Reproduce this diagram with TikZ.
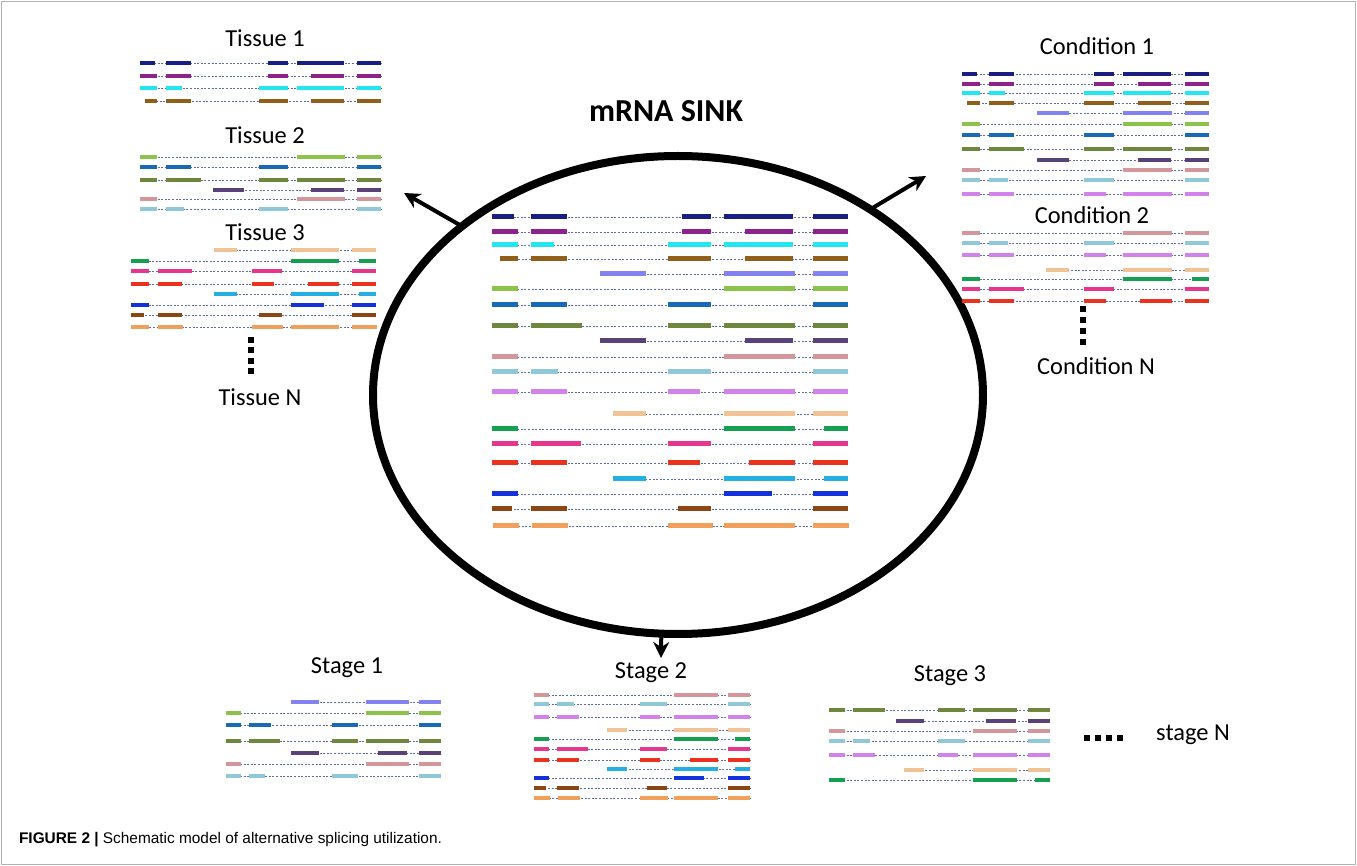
\documentclass[tikz,border=0pt]{standalone}
\usepackage{fontspec}
\setmainfont{Carlito}
\newfontfamily\capfont{Liberation Sans}
\usetikzlibrary{arrows.meta,shapes.geometric}

\definecolor{cNavy}{RGB}{25,30,130}
\definecolor{cPurple}{RGB}{140,35,140}
\definecolor{cCyan}{RGB}{35,230,240}
\definecolor{cGold}{RGB}{145,95,25}
\definecolor{cPeri}{RGB}{130,130,240}
\definecolor{cLime}{RGB}{140,195,75}
\definecolor{cSteel}{RGB}{25,105,185}
\definecolor{cOlive}{RGB}{110,135,60}
\definecolor{cPlum}{RGB}{90,65,120}
\definecolor{cRose}{RGB}{210,150,155}
\definecolor{cIce}{RGB}{145,200,215}
\definecolor{cOrchid}{RGB}{210,130,235}
\definecolor{cPeach}{RGB}{240,195,150}
\definecolor{cGreen}{RGB}{20,160,80}
\definecolor{cPink}{RGB}{230,55,140}
\definecolor{cRed}{RGB}{235,50,30}
\definecolor{cSky}{RGB}{35,175,225}
\definecolor{cBlue}{RGB}{20,50,220}
\definecolor{cBrown}{RGB}{140,70,20}
\definecolor{cOrange}{RGB}{240,160,90}
\definecolor{cIntron}{RGB}{95,110,160}

% one transcript: y, colour, exons (from/to)
\newcommand{\rna}[3]{%
	\foreach \a/\b [count=\i] in {#3} {
		\ifnum\i=1 \xdef\rnaFirst{\a}\fi
		\xdef\rnaLast{\b}
	}
	\draw[intron] (\rnaFirst,#1) -- (\rnaLast,#1);
	\foreach \a/\b in {#3} {
		\draw[exon, #2] (\a,#1) -- (\b,#1);
	}
}
\newcommand{\tNavy}[1]{\rna{#1}{cNavy}{1/23,40/76,191/220,233/302,322/357}}
\newcommand{\tPurple}[1]{\rna{#1}{cPurple}{1/27,40/76,191/220,254/302,322/357}}
\newcommand{\tCyan}[1]{\rna{#1}{cCyan}{1/27,40/63,177/220,233/302,322/357}}
\newcommand{\tGold}[1]{\rna{#1}{cGold}{9/27,40/76,177/220,254/302,322/357}}
\newcommand{\tPeri}[1]{\rna{#1}{cPeri}{109/155,233/304,322/357}}
\newcommand{\tLime}[1]{\rna{#1}{cLime}{1/27,233/304,322/357}}
\newcommand{\tSteel}[1]{\rna{#1}{cSteel}{1/27,40/76,177/220,322/357}}
\newcommand{\tOlive}[1]{\rna{#1}{cOlive}{1/27,40/91,177/220,233/304,322/357}}
\newcommand{\tPlum}[1]{\rna{#1}{cPlum}{109/155,254/302,322/357}}
\newcommand{\tRose}[1]{\rna{#1}{cRose}{1/27,233/304,322/357}}
\newcommand{\tIce}[1]{\rna{#1}{cIce}{1/27,40/67,177/220,322/357}}
\newcommand{\tOrchid}[1]{\rna{#1}{cOrchid}{1/27,40/76,177/209,233/304,322/357}}
\newcommand{\tPeach}[1]{\rna{#1}{cPeach}{122/155,233/304,322/357}}
\newcommand{\tGreen}[1]{\rna{#1}{cGreen}{1/27,233/304,333/357}}
\newcommand{\tPink}[1]{\rna{#1}{cPink}{1/27,40/90,177/220,322/357}}
\newcommand{\tRed}[1]{\rna{#1}{cRed}{1/27,40/76,177/209,258/304,322/357}}
\newcommand{\tSky}[1]{\rna{#1}{cSky}{122/155,233/304,333/357}}
\newcommand{\tBlue}[1]{\rna{#1}{cBlue}{1/27,233/281,322/357}}
\newcommand{\tBrown}[1]{\rna{#1}{cBrown}{1/21,40/76,187/220,322/357}}
\newcommand{\tOrange}[1]{\rna{#1}{cOrange}{2/28,41/77,177/222,233/304,322/358}}

\begin{document}
\begin{tikzpicture}[x=0.5pt, y=-0.5pt, line join=round,
	>={Stealth[length=8pt, width=8pt]},
	exon/.style={line width=2.5pt},
	intron/.style={draw=cIntron, line width=0.4pt, dash pattern=on 1pt off 0.8pt},
	lbl/.style={font=\fontsize{12.2}{14}\selectfont},
	dot/.style={fill=black, minimum size=2.6pt, inner sep=0pt},
	arrow/.style={->, line width=2pt}]
	\useasboundingbox (0,0) rectangle (1357,866);
	\draw[gray!60, line width=0.6pt] (1.5,1.5) rectangle (1355.5,864.5);

	% the sink
	\node[font=\bfseries\fontsize{16}{18}\selectfont] (title) at (666,111) {mRNA SINK};
	\node[draw, ellipse, line width=4pt, outer sep=0pt, minimum width=305pt, minimum height=239pt] (sink) at (678,395) {};
	\begin{scope}[shift={(491,0)}]
		\tNavy{217} \tPurple{232} \tCyan{245} \tGold{259} \tPeri{274}
		\tLime{289} \tSteel{305} \tOlive{326} \tPlum{341} \tRose{357}
		\tIce{372} \tOrchid{392} \tPeach{414} \tGreen{429} \tPink{444}
		\tRed{463} \tSky{479} \tBlue{494} \tBrown{509} \tOrange{526}
	\end{scope}

	% tissues
	\node[lbl] (tissue1) at (265,38) {Tissue 1};
	\node[lbl] (tissue2) at (265,135) {Tissue 2};
	\node[lbl] (tissue3) at (265,232) {Tissue 3};
	\node[lbl] (tissueN) at (260,397) {Tissue N};
	\begin{scope}[shift={(139,0)}, xscale=0.678, exon/.style={line width=2pt}]
		\tNavy{63} \tPurple{76} \tCyan{88} \tGold{101}
		\tLime{157} \tSteel{167} \tOlive{180} \tPlum{190} \tRose{199} \tIce{209}
	\end{scope}
	\begin{scope}[shift={(130,0)}, xscale=0.689, exon/.style={line width=2pt}]
		\tPeach{250} \tGreen{261} \tPink{271} \tRed{284}
		\tSky{294} \tBlue{305} \tBrown{315} \tOrange{327}
	\end{scope}
	\foreach \y in {340,350,361,371} {
		\node[dot] (tdot\y) at (251,\y) {};
	}

	% conditions
	\node[lbl] (cond1) at (1097,46) {Condition 1};
	\node[lbl] (cond2) at (1092,215) {Condition 2};
	\node[lbl] (condN) at (1096,366) {Condition N};
	\begin{scope}[shift={(961,0)}, xscale=0.695, exon/.style={line width=2pt}]
		\tNavy{74} \tPurple{84} \tCyan{93} \tGold{103} \tPeri{113} \tLime{124}
		\tSteel{135} \tOlive{149} \tPlum{160} \tRose{170} \tIce{180} \tOrchid{194}
		\tRose{233} \tIce{243} \tOrchid{255} \tPeach{270} \tGreen{279} \tPink{289} \tRed{301}
	\end{scope}
	\foreach \y in {309,320,331,342} {
		\node[dot] (cdot\y) at (1083,\y) {};
	}

	% stages
	\node[lbl] (stage1) at (347,668) {Stage 1};
	\node[lbl] (stage2) at (651,673) {Stage 2};
	\node[lbl] (stage3) at (950,676) {Stage 3};
	\node[lbl] (stageN) at (1193,735) {stage N};
	\begin{scope}[shift={(225,0)}, xscale=0.604, exon/.style={line width=1.8pt}]
		\tPeri{702} \tLime{713} \tSteel{725} \tOlive{741} \tPlum{753} \tRose{764} \tIce{776}
	\end{scope}
	\begin{scope}[shift={(533,0)}, xscale=0.607, exon/.style={line width=1.8pt}]
		\tRose{695} \tIce{704} \tOrchid{717} \tPeach{730} \tGreen{739} \tPink{749}
		\tRed{760} \tSky{769} \tBlue{778} \tBrown{788} \tOrange{798}
	\end{scope}
	\begin{scope}[shift={(828,0)}, xscale=0.621, exon/.style={line width=1.8pt}]
		\tOlive{710} \tPlum{721} \tRose{731} \tIce{741} \tOrchid{755} \tPeach{770} \tGreen{780}
	\end{scope}
	\foreach \x in {1087,1098,1109,1120} {
		\node[dot] (sdot\x) at (\x,738) {};
	}

	% arrows out of the sink
	\coordinate (tisTip) at (404,193);
	\coordinate (condTip) at (926,176);
	\coordinate (stageTip) at (661,658);
	\draw[arrow] (sink.142) -- (tisTip);
	\draw[arrow] (sink.44) -- (condTip);
	\draw[arrow] (sink.266) -- (stageTip);

	\node[anchor=west, font=\capfont\fontsize{7.7}{9}\selectfont] (caption) at (12,840)
		{\textbf{FIGURE 2 |} Schematic model of alternative splicing utilization.};
\end{tikzpicture}
\end{document}
